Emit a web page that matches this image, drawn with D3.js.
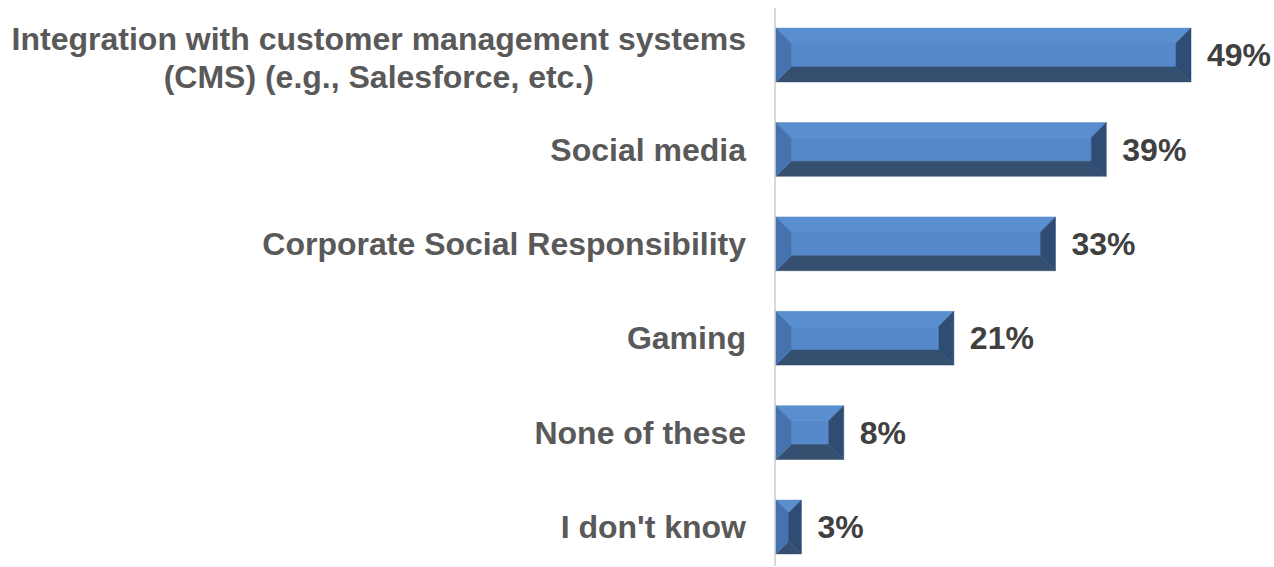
<!DOCTYPE html>
<html>
<head>
<meta charset="utf-8">
<script src="https://cdn.jsdelivr.net/npm/d3@7"></script>
<style>
  html, body { margin: 0; padding: 0; background: #ffffff; }
  svg { display: block; }
  text { font-family: "Liberation Sans", Arial, sans-serif; font-weight: bold; }
</style>
</head>
<body>
<svg id="chart" width="1274" height="567"></svg>
<script>
// Survey answers, top to bottom
const categories = [
  ["Integration with customer management systems", "(CMS) (e.g., Salesforce, etc.)"],
  ["Social media"],
  ["Corporate Social Responsibility"],
  ["Gaming"],
  ["None of these"],
  ["I don't know"]
];
const shares = [0.49, 0.39, 0.33, 0.21, 0.08, 0.03];
const valueLabels = ["49%", "39%", "33%", "21%", "8%", "3%"];

const W = 1274, H = 567;
const axisX = 776;
const svg = d3.select("#chart");

const idx = d3.range(categories.length);

const y = d3.scaleBand()
  .domain(idx)
  .range([7.8, 574.2])
  .paddingInner(0.43)
  .paddingOuter(0.215);

const x = d3.scaleLinear()
  .domain([0, 0.49])
  .range([axisX, 1191]);

// Vertical category axis line
svg.append("line")
  .attr("x1", axisX - 1).attr("x2", axisX - 1)
  .attr("y1", 8).attr("y2", 566)
  .attr("stroke", "#d9d9d9")
  .attr("stroke-width", 2);

// Bevelled bars: a flat face framed by four sloped edges
const bevelColors = {
  face: "#5589ca",
  top: "#598ecf",
  left: "#4573ae",
  right: "#2f4d74",
  bottom: "#344f6f"
};

function bevelParts(x0, x1, y0, y1) {
  const w = x1 - x0, h = y1 - y0;
  const b = Math.min(15, w / 2, h / 2);
  const pts = a => a.map(p => p.join(",")).join(" ");
  return [
    { key: "face", p: pts([[x0 + b, y0 + b], [x1 - b, y0 + b], [x1 - b, y1 - b], [x0 + b, y1 - b]]) },
    { key: "top", p: pts([[x0, y0], [x1, y0], [x1 - b, y0 + b], [x0 + b, y0 + b]]) },
    { key: "bottom", p: pts([[x0, y1], [x1, y1], [x1 - b, y1 - b], [x0 + b, y1 - b]]) },
    { key: "left", p: pts([[x0, y0], [x0 + b, y0 + b], [x0 + b, y1 - b], [x0, y1]]) },
    { key: "right", p: pts([[x1, y0], [x1 - b, y0 + b], [x1 - b, y1 - b], [x1, y1]]) }
  ];
}

const bars = svg.append("g").selectAll("g.bar")
  .data(idx)
  .join("g")
  .attr("class", "bar");

bars.each(function (i) {
  const x0 = x(0), x1 = x(shares[i]);
  const y0 = y(i), y1 = y(i) + y.bandwidth();
  d3.select(this).selectAll("polygon")
    .data(bevelParts(x0, x1, y0, y1))
    .join("polygon")
    .attr("points", d => d.p)
    .attr("fill", d => bevelColors[d.key])
    .attr("stroke", d => bevelColors[d.key])
    .attr("stroke-width", 0.5);
});

// Category labels: each block sits right against the axis,
// with its lines centred on one another
const fontSize = 32;
const lineH = 38;
const labelRight = axisX - 30;

const labels = svg.append("g").selectAll("text.cat")
  .data(idx)
  .join("text")
  .attr("class", "cat")
  .attr("text-anchor", "middle")
  .attr("fill", "#595959")
  .attr("font-size", fontSize);

labels.each(function (i) {
  const lines = categories[i];
  const cy = y(i) + y.bandwidth() / 2 + (lines.length > 1 ? 3 : 0);
  const first = cy - (lines.length - 1) * lineH / 2;
  const t = d3.select(this);
  t.selectAll("tspan")
    .data(lines)
    .join("tspan")
    .attr("y", (d, k) => first + k * lineH)
    .attr("dy", "0.35em")
    .text(d => d);
  let maxW = 0;
  t.selectAll("tspan").each(function () {
    maxW = Math.max(maxW, this.getComputedTextLength());
  });
  t.selectAll("tspan").attr("x", labelRight - maxW / 2);
});

// Value labels at the bar ends
svg.append("g").selectAll("text.val")
  .data(idx)
  .join("text")
  .attr("class", "val")
  .attr("x", i => x(shares[i]) + 16)
  .attr("y", i => y(i) + y.bandwidth() / 2)
  .attr("dy", "0.35em")
  .attr("fill", "#404040")
  .attr("font-size", fontSize)
  .text(i => valueLabels[i]);
</script>
</body>
</html>
